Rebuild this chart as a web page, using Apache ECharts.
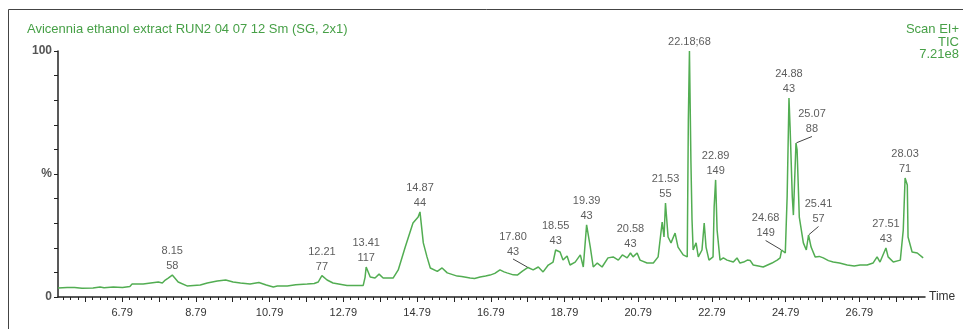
<!DOCTYPE html>
<html>
<head>
<meta charset="utf-8">
<script src="https://cdn.jsdelivr.net/npm/echarts@6/dist/echarts.min.js"></script>
<style>
html,body{margin:0;padding:0;background:#fff;}
#chart{width:963px;height:329px;}
</style>
</head>
<body>
<div id="chart"></div>
<script>
// Retention time (min) and relative intensity (%)
const times = [5.05, 5.3, 5.5, 5.7, 6.0, 6.19, 6.3, 6.55, 6.8, 7.0, 7.06, 7.36, 7.77, 7.88, 7.96, 8.04, 8.15, 8.31, 8.55, 8.91, 9.1, 9.37, 9.6, 9.8, 10.0, 10.26, 10.5, 10.7, 10.89, 11.0, 11.27, 11.5, 11.81, 12.0, 12.11, 12.17, 12.21, 12.35, 12.51, 12.89, 13.33, 13.38, 13.41, 13.52, 13.65, 13.76, 13.87, 14.14, 14.28, 14.47, 14.68, 14.82, 14.87, 14.96, 15.06, 15.15, 15.34, 15.47, 15.61, 15.88, 16.0, 16.23, 16.35, 16.5, 16.65, 16.77, 16.9, 17.04, 17.15, 17.23, 17.4, 17.51, 17.65, 17.8, 17.94, 18.08, 18.21, 18.35, 18.48, 18.55, 18.67, 18.75, 18.86, 18.94, 19.08, 19.22, 19.3, 19.39, 19.49, 19.57, 19.68, 19.81, 19.97, 20.11, 20.25, 20.36, 20.49, 20.58, 20.65, 20.76, 20.84, 21.03, 21.2, 21.33, 21.44, 21.49, 21.53, 21.6, 21.68, 21.79, 21.87, 22.01, 22.12, 22.15, 22.18, 22.22, 22.25, 22.28, 22.36, 22.42, 22.52, 22.58, 22.63, 22.71, 22.82, 22.85, 22.89, 22.93, 23.01, 23.1, 23.2, 23.28, 23.37, 23.47, 23.55, 23.65, 23.75, 23.83, 23.91, 24.05, 24.18, 24.3, 24.42, 24.5, 24.56, 24.64, 24.68, 24.78, 24.83, 24.88, 24.91, 24.97, 25.0, 25.07, 25.1, 25.16, 25.27, 25.35, 25.41, 25.48, 25.59, 25.7, 25.81, 25.95, 26.08, 26.25, 26.46, 26.65, 26.81, 27.0, 27.16, 27.27, 27.35, 27.51, 27.57, 27.71, 27.9, 27.98, 28.03, 28.09, 28.11, 28.22, 28.36, 28.52];
const intensities = [3.7, 3.9, 3.9, 3.6, 3.7, 4.1, 3.8, 4.1, 3.9, 4.3, 5.3, 5.3, 6.1, 5.7, 6.9, 7.7, 8.9, 6.1, 4.5, 4.9, 5.7, 6.5, 6.9, 6.1, 5.7, 5.3, 5.9, 4.9, 4.1, 4.5, 4.5, 5.0, 5.3, 5.5, 6.1, 7.7, 8.7, 6.9, 5.7, 4.7, 4.7, 8.0, 12.2, 8.1, 7.7, 9.3, 7.7, 7.7, 11.0, 20.3, 30.1, 32.5, 34.6, 22.0, 16.3, 11.8, 10.4, 11.8, 9.8, 8.5, 8.3, 7.7, 7.5, 8.1, 8.5, 8.9, 9.6, 11.0, 10.2, 9.8, 9.0, 8.9, 10.5, 12.0, 11.0, 12.2, 10.2, 13.0, 14.2, 19.1, 18.3, 15.0, 16.7, 13.0, 14.2, 17.1, 12.2, 29.3, 20.3, 12.2, 13.8, 12.2, 15.9, 16.3, 15.0, 17.1, 15.9, 17.9, 16.3, 17.9, 15.0, 13.8, 13.8, 16.3, 30.5, 24.4, 38.2, 24.4, 22.0, 26.0, 20.3, 17.1, 16.3, 72.0, 100, 55, 31.3, 19.1, 22.0, 16.3, 19.1, 30.1, 20.3, 15.0, 16.3, 36.6, 47.6, 27.2, 15.0, 15.9, 15.0, 14.6, 14.2, 15.9, 13.8, 14.2, 15.0, 14.8, 13.0, 12.6, 12.2, 13.0, 13.8, 14.5, 15.0, 15.9, 19.1, 17.9, 40.7, 80.9, 69.1, 40.7, 33.3, 62.6, 59.8, 32.5, 22.0, 19.1, 25.2, 20.3, 16.3, 16.5, 15.9, 14.8, 14.2, 13.8, 13.0, 12.6, 13.0, 13.0, 13.8, 16.3, 14.2, 19.9, 16.3, 14.2, 15.0, 27.2, 48.4, 45.5, 24.4, 18.3, 17.9, 15.9];

// Peak annotations
const peakTimes = [8.15, 12.21, 13.41, 14.87, 18.55, 19.39, 20.58, 21.53, 22.18, 22.89, 24.88, 27.51, 28.03];
const peakLabels = ['8.15\n58', '12.21\n77', '13.41\n117', '14.87\n44', '18.55\n43', '19.39\n43', '20.58\n43', '21.53\n55', '22.18;68', '22.89\n149', '24.88\n43', '27.51\n43', '28.03\n71'];
const leaderPeakTimes = [17.80, 24.68, 25.07, 25.41];
const leaderPeakLabels = ['17.80\n43', '24.68\n149', '25.07\n88', '25.41\n57'];

// Axis tick labels
const xTickLabels = ['6.79', '8.79', '10.79', '12.79', '14.79', '16.79', '18.79', '20.79', '22.79', '24.79', '26.79'];
const yTickLabels = {0: '0', 50: '%', 100: '100'};

const GREEN_LINE = '#52ad52';
const GREEN_TEXT = '#47a047';
const AXIS = '#222';
const FONT = '"Liberation Sans", Arial, sans-serif';

const lineData = times.map((t, i) => [t, intensities[i]]);
function valueAt(t) {
  const i = times.findIndex(v => Math.abs(v - t) < 1e-6);
  return intensities[i];
}
const peakData = peakTimes.map((t, i) => ({value: [t, valueAt(t)], name: peakLabels[i]}));
const leaderData = leaderPeakTimes.map((t, i) => ({value: [t, valueAt(t)], name: leaderPeakLabels[i]}));

const xMin = 5.05, xMax = 28.57;
const majorTicks = [];
for (let k = -1; k <= 21; k++) { const v = +(6.79 + k).toFixed(2); if (v >= xMin && v <= xMax) majorTicks.push(v); }
const minorTicks = [];
for (let k = -8; k <= 110; k++) { const v = +(6.79 + k * 0.2).toFixed(2); if (v >= xMin && v <= xMax) minorTicks.push(v); }

const leaderOffsets = [[-15, -7], [-16, -8], [16, -5], [10, -7]];

const labelStyle = {
  show: true, position: 'top', distance: 1, formatter: p => p.name,
  fontFamily: FONT, fontSize: 11, color: '#333', lineHeight: 15, align: 'center'
};

const chart = echarts.init(document.getElementById('chart'), null, {renderer: 'canvas'});
chart.setOption({
  animation: false,
  grid: {left: 58, right: 38, top: 51, bottom: 32, containLabel: false},
  xAxis: [{
    type: 'value', min: xMin, max: xMax, position: 'bottom',
    name: 'Time', nameLocation: 'end', nameGap: 4,
    nameTextStyle: {fontFamily: FONT, fontSize: 12, color: '#333', verticalAlign: 'middle'},
    axisLine: {show: true, lineStyle: {color: AXIS, width: 1.5}},
    axisTick: {show: true, customValues: majorTicks, length: 5, lineStyle: {color: AXIS}},
    axisLabel: {show: true, customValues: xTickLabels.map(Number), formatter: v => v.toFixed(2),
      margin: 10, fontFamily: FONT, fontSize: 11, color: '#333'},
    splitLine: {show: false}
  }, {
    type: 'value', min: xMin, max: xMax, position: 'bottom',
    axisLine: {show: false},
    axisTick: {show: true, customValues: minorTicks, length: 3, lineStyle: {color: AXIS}},
    axisLabel: {show: false},
    splitLine: {show: false}
  }],
  yAxis: {
    type: 'value', min: 0, max: 100, interval: 10,
    axisLine: {show: true, lineStyle: {color: AXIS, width: 1.5}},
    axisTick: {show: true, length: 4, lineStyle: {color: AXIS}},
    axisLabel: {show: true, margin: 6, formatter: v => yTickLabels[v] || '',
      fontFamily: FONT, fontSize: 12, fontWeight: 'bold', color: '#555'},
    splitLine: {show: false}
  },
  graphic: [
    {type: 'rect', shape: {x: 8.5, y: 9.5, width: 1000, height: 400}, style: {fill: 'none', stroke: '#444', lineWidth: 1}, silent: true},
    {type: 'text', x: 27, y: 29, style: {text: 'Avicennia ethanol extract RUN2 04 07 12 Sm (SG, 2x1)', fontFamily: FONT, fontSize: 13, fill: GREEN_TEXT, verticalAlign: 'middle'}},
    {type: 'text', x: 959, y: 29, style: {text: 'Scan EI+', fontFamily: FONT, fontSize: 13, fill: GREEN_TEXT, align: 'right', verticalAlign: 'middle'}},
    {type: 'text', x: 959, y: 42, style: {text: 'TIC', fontFamily: FONT, fontSize: 13, fill: GREEN_TEXT, align: 'right', verticalAlign: 'middle'}},
    {type: 'text', x: 959, y: 54, style: {text: '7.21e8', fontFamily: FONT, fontSize: 13, fill: GREEN_TEXT, align: 'right', verticalAlign: 'middle'}}
  ],
  series: [{
    type: 'line', data: lineData, xAxisIndex: 0, showSymbol: false, symbol: 'none',
    lineStyle: {color: GREEN_LINE, width: 1.5}, z: 2
  }, {
    type: 'scatter', data: peakData, xAxisIndex: 0, symbolSize: 1,
    itemStyle: {color: 'rgba(0,0,0,0)'}, label: labelStyle, z: 3
  }, {
    type: 'scatter', data: leaderData, xAxisIndex: 0, symbolSize: 1,
    itemStyle: {color: 'rgba(0,0,0,0)'}, label: labelStyle,
    labelLayout: p => ({dx: leaderOffsets[p.dataIndex][0], dy: leaderOffsets[p.dataIndex][1]}),
    labelLine: {show: true, lineStyle: {color: '#444', width: 1}},
    z: 3
  }]
});
</script>
</body>
</html>
